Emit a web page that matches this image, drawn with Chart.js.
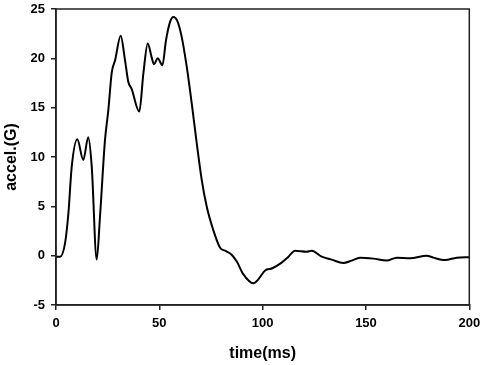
<!DOCTYPE html>
<html>
<head>
<meta charset="utf-8">
<script src="https://cdn.jsdelivr.net/npm/chart.js@4/dist/chart.umd.min.js"></script>
<style>
  html, body { margin: 0; padding: 0; background: #fff; }
  #wrap { width: 484px; height: 365px; }
</style>
</head>
<body>
<div id="wrap"><canvas id="myChart"></canvas></div>
<script>
// Les données : temps (ms) et accélération (G)
const time = [0, 2, 4.4, 6, 7.6, 10.3, 13.2, 15.6, 17.3, 19.7, 21.3, 23.7, 25.3, 27, 28.6,
    31.3, 33.4, 35, 36.6, 40.3, 42.3, 44.4, 46.3, 47.4, 49.2, 51.5, 53.2, 55.2, 56.8, 58.7,
    60.8, 63.3, 65.7, 68.1, 70.5, 72.9, 76.1, 79.4, 81.8, 85, 87.5, 90.7, 95.5, 97.9, 101.2,
    104.4, 109.2, 112.5, 115.7, 121.3, 123.7, 128.6, 133.4, 139, 143.1, 147.1, 153.6, 160,
    164.9, 171.3, 179.4, 182.6, 188.3, 193.9, 200];
const accel = [-0.1, -0.1, 1.3, 4.3, 9.0, 11.8, 9.7, 12.0, 9.0, -0.4, 4.0, 11.7, 14.7, 18.6, 19.8,
    22.3, 19.8, 17.6, 16.9, 14.6, 18.5, 21.5, 20.1, 19.4, 20.0, 19.3, 21.8, 23.7, 24.2, 23.8,
    22.2, 19.1, 15.4, 11.4, 7.7, 5.0, 2.6, 0.8, 0.5, 0.1, -0.6, -1.9, -2.8, -2.4, -1.5,
    -1.3, -0.7, -0.1, 0.5, 0.4, 0.5, -0.1, -0.4, -0.75, -0.5, -0.2, -0.3, -0.5,
    -0.2, -0.25, 0.0, -0.2, -0.45, -0.2, -0.15];

// Graduations des axes
const xTicks = [0, 50, 100, 150, 200];
const yTicks = [-5, 0, 5, 10, 15, 20, 25];

const points = time.map((t, i) => ({x: t, y: accel[i]}));

// Cadre autour de la zone de tracé (haut et droite)
const frame = {
    id: 'frame',
    afterDraw(chart) {
        const {ctx, chartArea} = chart;
        ctx.save();
        ctx.strokeStyle = '#222';
        ctx.lineWidth = 1.5;
        ctx.strokeRect(chartArea.left, chartArea.top, chartArea.right - chartArea.left, chartArea.bottom - chartArea.top);
        ctx.restore();
    }
};

const tickFont = {family: '"Liberation Sans", Arial, sans-serif', size: 13, weight: 'bold'};
const titleFont = {family: '"Liberation Sans", Arial, sans-serif', size: 16, weight: 'bold'};

const ctx = document.getElementById('myChart').getContext('2d');
const myChart = new Chart(ctx, {
    type: 'line',
    data: {
        datasets: [{
            label: 'accel',
            data: points,
            borderColor: '#000',
            borderWidth: 2,
            pointRadius: 0,
            cubicInterpolationMode: 'monotone',
            fill: false
        }]
    },
    options: {
        responsive: true,
        maintainAspectRatio: false,
        animation: false,
        layout: {padding: 0},
        plugins: {legend: {display: false}, tooltip: {enabled: false}},
        scales: {
            x: {
                type: 'linear',
                min: xTicks[0],
                max: xTicks[xTicks.length - 1],
                afterBuildTicks: (axis) => { axis.ticks = xTicks.map(v => ({value: v})); },
                // hauteur de l'axe et marge à droite fixées à la main
                afterFit: (axis) => { axis.height = 60; axis.paddingRight = 14.7; },
                grid: {drawOnChartArea: false, drawTicks: true, tickLength: 5, color: '#222', lineWidth: 1.5},
                border: {display: true, color: '#222', width: 1.5},
                ticks: {color: '#000', font: tickFont, padding: 6, maxRotation: 0},
                title: {display: true, text: 'time(ms)', color: '#000', font: titleFont, padding: {top: 0, bottom: 2}}
            },
            y: {
                min: yTicks[0],
                max: yTicks[yTicks.length - 1],
                afterBuildTicks: (axis) => { axis.ticks = yTicks.map(v => ({value: v})); },
                afterFit: (axis) => { axis.width = 56; axis.paddingTop = 9; },
                grid: {drawOnChartArea: false, drawTicks: true, tickLength: 5, color: '#222', lineWidth: 1.5},
                border: {display: true, color: '#222', width: 1.5},
                ticks: {color: '#000', font: tickFont, padding: 6},
                title: {display: true, text: 'accel.(G)', color: '#000', font: titleFont, padding: {top: 2, bottom: 0}}
            }
        }
    },
    plugins: [frame]
});
</script>
</body>
</html>
